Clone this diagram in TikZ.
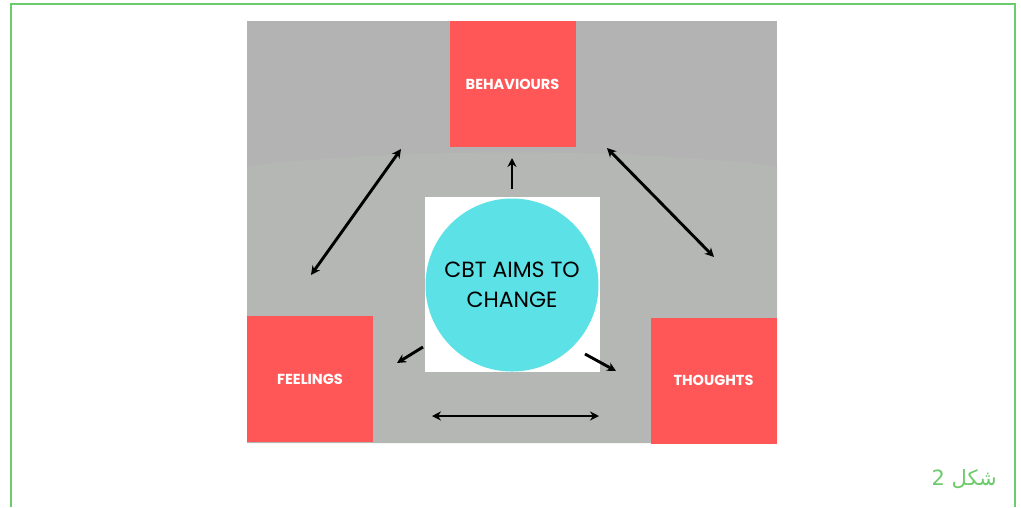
\documentclass[tikz,border=0pt]{standalone}
\usepackage{fontspec}
\usetikzlibrary{arrows.meta}
\setmainfont{Poppins}
\newfontfamily\arabicfont[Script=Arabic]{DejaVu Sans}
\TeXXeTstate=1
\newcommand{\boxSize}[0]{126pt}
\newcommand{\arrowWidth}[0]{2.9pt}
\definecolor{boxred}{HTML}{FF5757}
\definecolor{aimcyan}{HTML}{5CE1E6}
\definecolor{paneldark}{HTML}{B3B3B3}
\definecolor{panellight}{HTML}{B4B7B3}
\definecolor{framegreen}{HTML}{6CCB6A}

\begin{document}
\begin{tikzpicture}[x=1pt, y=-1pt]
  \tikzset{every node/.style={inner sep=0pt},
    corner box/.style={fill=boxred, minimum size=\boxSize, text=white,
      font=\fontsize{14.5}{16}\selectfont\bfseries},
    link/.style={line width=\arrowWidth, {Stealth[length=9pt,width=9pt]}-{Stealth[length=9pt,width=9pt]}},
    push/.style={line width=\arrowWidth, -{Stealth[length=9pt,width=9pt]}}}
  \useasboundingbox (0,0) rectangle (1021,507);
  % outer frame, open at the bottom
  \draw[framegreen, line width=2.6pt] (11,507) -- (11,4) -- (1015,4) -- (1015,507);
  % grey panel with its lighter lower part
  \fill[paneldark] (247,21) rectangle (777,443);
  \fill[panellight] (247,166) .. controls (400,148) and (624,148) .. (777,166)
    -- (777,443) -- (247,443) -- cycle;
  % the three corners
  \node[corner box] (behaviours) at (512.5,84) {BEHAVIOURS};
  \node[corner box] (feelings) at (310,379) {FEELINGS};
  \node[corner box] (thoughts) at (713.5,380.5) {THOUGHTS};
  % centre
  \node[fill=white, minimum size=175pt] (aimsquare) at (512,284.5) {};
  \node[circle, fill=aimcyan, minimum size=173pt, align=center, text=black,
    font=\fontsize{22}{30}\selectfont] (aims) at (512,285) {CBT AIMS TO\\CHANGE};
  % arrow ends
  \coordinate (fb-1) at (311,275);
  \coordinate (fb-2) at (401,149);
  \coordinate (bt-1) at (607,148);
  \coordinate (bt-2) at (714,257);
  \coordinate (ft-1) at (432,416);
  \coordinate (ft-2) at (599,416);
  \coordinate (up-1) at (512,189);
  \coordinate (up-2) at (512,158);
  \coordinate (dl-1) at (423,347);
  \coordinate (dl-2) at (397,363);
  \coordinate (dr-1) at (585,354);
  \coordinate (dr-2) at (616,371);
  \draw[link] (fb-1) -- (fb-2);
  \draw[link] (bt-1) -- (bt-2);
  \draw[link] (ft-1) -- (ft-2);
  \draw[push] (up-1) -- (up-2);
  \draw[push] (dl-1) -- (dl-2);
  \draw[push] (dr-1) -- (dr-2);
  % caption
  \node[text=framegreen, anchor=base east, font=\arabicfont\fontsize{21}{24}\selectfont]
    (caption) at (997,485) {\beginR شكل 2\endR};
\end{tikzpicture}
\end{document}
